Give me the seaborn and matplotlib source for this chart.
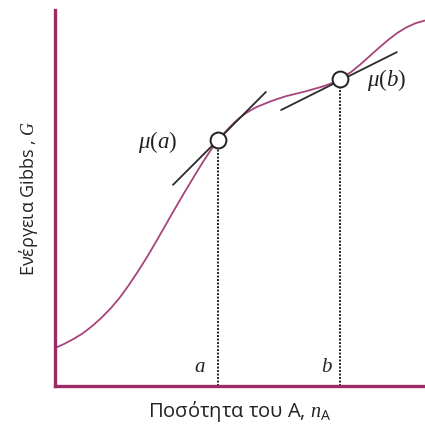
import matplotlib
matplotlib.use("Agg")
import matplotlib.pyplot as plt
import seaborn as sns
import pandas as pd

# Gibbs energy curve (x: amount of A, y: G, both on 0..10)
curve_x = [0.00, 0.25, 0.50, 0.75, 1.00, 1.25, 1.50, 1.75, 2.00, 2.25, 2.50, 2.75,
           3.00, 3.25, 3.50, 3.75, 4.00, 4.20, 4.41, 4.55, 4.70, 4.85, 5.00, 5.15,
           5.30, 5.45, 5.60, 5.80, 6.00, 6.25, 6.50, 6.75, 7.00, 7.25, 7.50, 7.70,
           7.85, 8.00, 8.25, 8.50, 8.75, 9.00, 9.25, 9.50, 9.75, 10.0]
curve_y = [1.01, 1.12, 1.25, 1.40, 1.59, 1.81, 2.06, 2.35, 2.69, 3.06, 3.45, 3.87,
           4.30, 4.73, 5.15, 5.56, 5.96, 6.26, 6.54, 6.70, 6.86, 7.01, 7.14, 7.25,
           7.34, 7.42, 7.48, 7.56, 7.63, 7.71, 7.77, 7.83, 7.90, 7.97, 8.06, 8.16,
           8.25, 8.35, 8.55, 8.77, 8.99, 9.20, 9.39, 9.54, 9.65, 9.72]

# points a and b on the curve
point_x = [4.41, 7.70]
point_y = [6.54, 8.16]
point_names = ["a", "b"]
mu_labels = [r"$\mu\mathrm{(}a\mathrm{)}$", r"$\mu\mathrm{(}b\mathrm{)}$"]

# tangent segments (end points)
tangent_a_x = [3.19, 5.70]
tangent_a_y = [5.35, 7.82]
tangent_b_x = [6.11, 9.24]
tangent_b_y = [7.34, 8.88]

purple = "#9c2a67"
curve_color = "#a8447c"
ink = "#222222"

sns.set_style("white")
plt.rcParams["font.family"] = ["Open Sans", "DejaVu Sans"]
plt.rcParams["mathtext.fontset"] = "custom"
plt.rcParams["mathtext.rm"] = "Liberation Serif"
plt.rcParams["mathtext.it"] = "Liberation Serif:italic"
plt.rcParams["mathtext.sf"] = "Open Sans"
plt.rcParams["mathtext.bf"] = "Open Sans:bold"

fig = plt.figure(figsize=(4.25, 4.26), dpi=100)
ax = fig.add_axes([55 / 425, 40 / 426, 370 / 425, 376 / 426])

df = pd.DataFrame({"n": curve_x, "G": curve_y})
sns.lineplot(data=df, x="n", y="G", color=curve_color, lw=1.3, ax=ax, zorder=2)

# tangents
ax.plot(tangent_a_x, tangent_a_y, color="#2b2b2b", lw=1.3, zorder=3)
ax.plot(tangent_b_x, tangent_b_y, color="#2b2b2b", lw=1.3, zorder=3)

# dotted drop lines
for px, py in zip(point_x, point_y):
    ax.plot([px, px], [0, py], color=ink, lw=1.4, ls=(0, (1, 0.8)), zorder=1)

sns.scatterplot(x=point_x, y=point_y, s=130, facecolor="white", edgecolor=ink,
                linewidth=1.4, ax=ax, zorder=4)

# labels for a, b and mu
serif_it = dict(family="Liberation Serif", style="italic", color=ink)
ax.text(3.92, 0.25, point_names[0], fontsize=15, ha="center", va="bottom", **serif_it)
ax.text(7.35, 0.25, point_names[1], fontsize=15, ha="center", va="bottom", **serif_it)
ax.text(2.76, 6.49, mu_labels[0], fontsize=16.5, ha="center", va="center", color=ink)
ax.text(8.97, 8.14, mu_labels[1], fontsize=16.5, ha="center", va="center", color=ink)

ax.set_xlim(0, 10)
ax.set_ylim(0, 10)
ax.set_xticks([])
ax.set_yticks([])
sns.despine(ax=ax)
for side in ["left", "bottom"]:
    ax.spines[side].set_color(purple)
    ax.spines[side].set_linewidth(2.4)

ax.set_xlabel(r"Ποσότητα του A, $n_{\mathsf{A}}$", fontsize=14.5, labelpad=9, color=ink)
ax.set_ylabel(r"Ενέργεια Gibbs , $G$", fontsize=13, labelpad=11, color=ink)

fig.savefig("out.png", dpi=100)
